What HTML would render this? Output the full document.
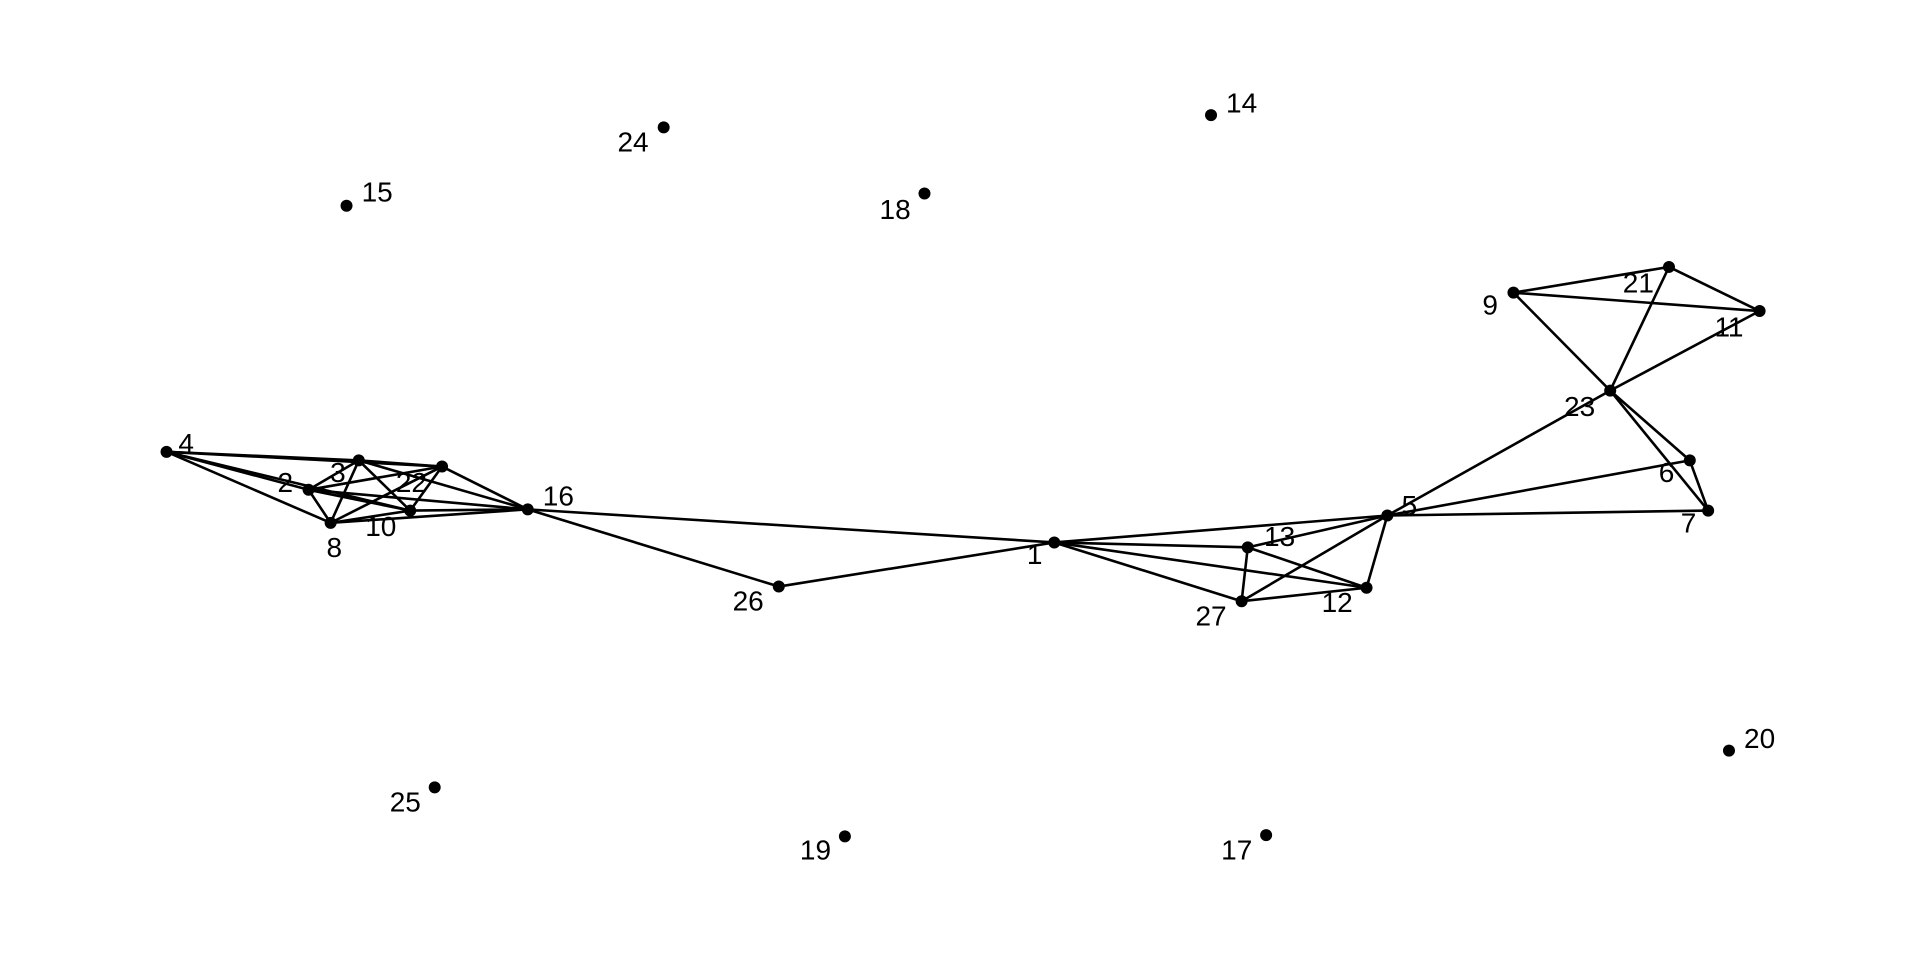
<!DOCTYPE html>
<html><head><meta charset="utf-8"><style>
html,body{margin:0;padding:0;background:#fff;}
svg{display:block;}
text{font-family:"Liberation Sans",Arial,sans-serif;font-size:28px;fill:#000;}
</style></head>
<body>
<svg id="chart" width="1920" height="960" viewBox="0 0 1920 960"></svg>
<script>
const nodeIds = [1,2,3,4,5,6,7,8,9,10,11,12,13,14,15,16,17,18,19,20,21,22,23,24,25,26,27];
const nodeX = [861,252,293,136,1133,1380,1395,270,1236,335,1437,1116,1019,989,283,431,1034,755,690,1412,1363,361,1315,542,355,636,1014];
const nodeY = [443,400,376,369,421,376,417,427,239,417,254,480,447,94,168,416,682,158,683,613,218,381,319,104,643,479,491];
const labelX = [845,233,276,152,1151,1361,1379,273,1217,311,1412,1092,1045,1014,308,456,1010,731,666,1437,1338,336,1290,517,331,611,989];
const labelY = [453,394,386,362,413,386,427,447,249,430,267,492,438,84,157,405,694,171,694,603,231,394,332,116,655,491,503];
const edgeFrom = [4,4,4,4,4,3,3,3,3,3,22,22,22,22,2,2,2,8,8,10,16,16,26,1,1,1,1,13,13,13,27,27,12,5,5,5,23,23,23,23,23,9,9,21,6];
const edgeTo   = [3,22,2,10,8,2,8,10,22,16,2,8,10,16,8,10,16,10,16,16,1,26,1,13,12,27,5,5,12,27,5,12,5,23,6,7,9,21,11,6,7,21,11,11,7];

const S = 1920/1568;
const xs = v => v*S;
const ys = v => v*S;
const svg = document.getElementById('chart');
const NS = 'http://www.w3.org/2000/svg';
const idx = id => nodeIds.indexOf(id);

for (let i=0;i<edgeFrom.length;i++){
  const a=idx(edgeFrom[i]), b=idx(edgeTo[i]);
  const l=document.createElementNS(NS,'line');
  l.setAttribute('x1',xs(nodeX[a]));l.setAttribute('y1',ys(nodeY[a]));
  l.setAttribute('x2',xs(nodeX[b]));l.setAttribute('y2',ys(nodeY[b]));
  l.setAttribute('stroke','#000');l.setAttribute('stroke-width','2.6');
  
  
  svg.appendChild(l);
}
for (let i=0;i<nodeIds.length;i++){
  const c=document.createElementNS(NS,'circle');
  c.setAttribute('cx',xs(nodeX[i]));c.setAttribute('cy',ys(nodeY[i]));
  c.setAttribute('r','6');c.setAttribute('fill','#000');
  
  
  svg.appendChild(c);
  const t=document.createElementNS(NS,'text');
  t.setAttribute('x',xs(labelX[i]));t.setAttribute('y',ys(labelY[i]));
  t.setAttribute('text-anchor','middle');t.setAttribute('dominant-baseline','central');
  t.textContent=nodeIds[i];
  
  
  svg.appendChild(t);
}
</script>
</body></html>
